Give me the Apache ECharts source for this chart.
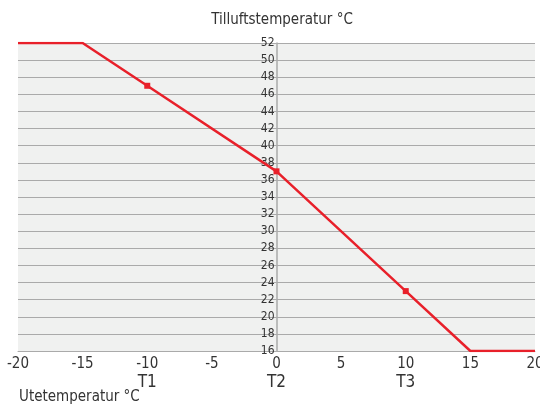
<!DOCTYPE html>
<html>
<head>
<meta charset="utf-8">
<script src="https://cdn.jsdelivr.net/npm/echarts@6/dist/echarts.min.js"></script>
<style>
  html, body { margin: 0; padding: 0; background: #fff; }
  #chart { width: 540px; height: 408px; }
</style>
</head>
<body>
<div id="chart"></div>
<script>
// kurvens knekkpunkter (utetemperatur, tilluftstemperatur)
var uteTemp = [-20, -15, -10, 0, 10, 15, 20];
var tilluftTemp = [52, 52, 47, 37, 23, 16, 16];
// punkter som har markering
var markert = [false, false, true, true, true, false, false];
// T-navn under x-aksen
var tVerdier = [-10, 0, 10];
var tNavn = ['T1', 'T2', 'T3'];

var font = '"Liberation Sans Narrow", "DejaVu Sans Condensed", sans-serif';

var chart = echarts.init(document.getElementById('chart'));

var punkter = uteTemp.map(function (x, i) {
  return {
    value: [x, tilluftTemp[i]],
    symbol: markert[i] ? 'rect' : 'none',
    symbolSize: 6
  };
});

var option = {
  animation: false,
  title: [
    {
      text: 'Tilluftstemperatur °C',
      left: 277,
      top: 8,
      textAlign: 'center',
      textStyle: { fontFamily: font, fontSize: 15, fontWeight: 'normal', color: '#333' }
    },
    {
      text: 'Utetemperatur °C',
      left: 14,
      top: 385,
      textStyle: { fontFamily: font, fontSize: 15, fontWeight: 'normal', color: '#333' }
    }
  ],
  grid: {
    left: 18,
    right: 5,
    top: 43,
    bottom: 57,
    outerBoundsMode: 'none',
    containLabel: false,
    show: true,
    backgroundColor: '#f0f1f0',
    borderWidth: 0
  },
  xAxis: {
    type: 'value',
    min: -20,
    max: 20,
    interval: 5,
    axisLine: { lineStyle: { color: '#aaa', width: 1 } },
    axisTick: { show: false },
    splitLine: { show: false },
    axisLabel: {
      margin: 4,
      fontFamily: font,
      fontSize: 15,
      color: '#333',
      lineHeight: 18,
      formatter: function (v) {
        var i = tVerdier.indexOf(v);
        return i >= 0 ? v + '\n{t|' + tNavn[i] + '}' : String(v);
      },
      rich: {
        t: { fontFamily: font, fontSize: 17, color: '#333', lineHeight: 20 }
      }
    }
  },
  yAxis: {
    type: 'value',
    min: 16,
    max: 52,
    interval: 2,
    position: 'left',
    offset: -258.5,
    axisLine: { show: true, onZero: false, lineStyle: { color: '#aaa', width: 1.5 } },
    axisTick: { show: false },
    splitLine: { lineStyle: { color: '#aaa', width: 1 } },
    axisLabel: {
      margin: 2,
      fontFamily: font,
      fontSize: 12,
      color: '#333'
    }
  },
  series: [
    {
      type: 'line',
      z: 10,
      data: punkter,
      lineStyle: { color: '#e8202a', width: 2.5 },
      itemStyle: { color: '#e8202a' },
      showAllSymbol: true
    }
  ]
};

chart.setOption(option);
</script>
</body>
</html>
